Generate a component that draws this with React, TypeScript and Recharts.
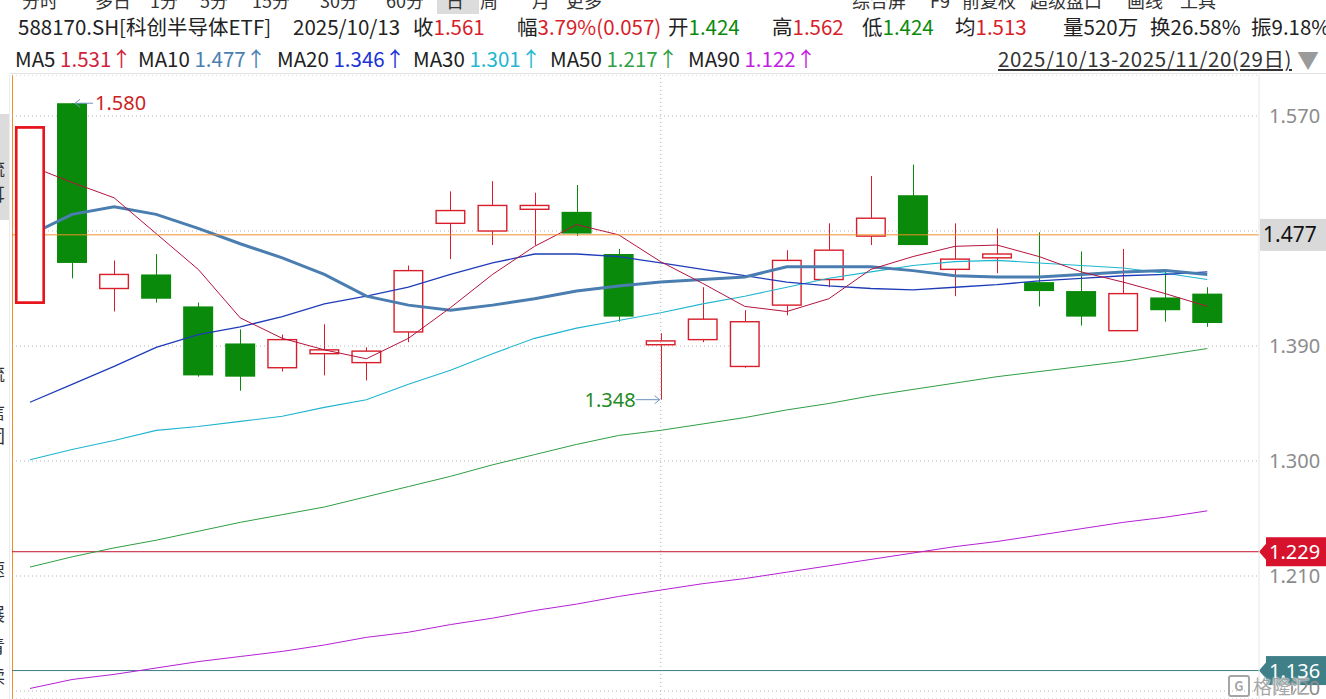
import {
  Bar,
  CartesianGrid,
  ComposedChart,
  Line,
  ReferenceDot,
  ReferenceLine,
  XAxis,
  YAxis,
} from 'recharts';

// 588170.SH daily candles, 2025/10/13 - 2025/11/20 (29 trading days)
const dates = [
  '10/13', '10/14', '10/15', '10/16', '10/17',
  '10/20', '10/21', '10/22', '10/23', '10/24',
  '10/27', '10/28', '10/29', '10/30', '10/31',
  '11/03', '11/04', '11/05', '11/06', '11/07',
  '11/10', '11/11', '11/12', '11/13', '11/14',
  '11/17', '11/18', '11/19', '11/20',
];
const open = [
  1.424, 1.58, 1.435, 1.446, 1.421, 1.392, 1.373, 1.384, 1.377, 1.401,
  1.486, 1.48, 1.497, 1.495, 1.462, 1.391, 1.395, 1.374, 1.422, 1.442,
  1.476, 1.508, 1.45, 1.459, 1.44, 1.433, 1.402, 1.428, 1.431,
];
const high = [
  1.562, 1.58, 1.457, 1.462, 1.424, 1.403, 1.399, 1.407, 1.389, 1.453,
  1.511, 1.519, 1.51, 1.516, 1.466, 1.4, 1.436, 1.418, 1.465, 1.486,
  1.523, 1.532, 1.486, 1.482, 1.479, 1.464, 1.466, 1.45, 1.436,
];
const low = [
  1.424, 1.443, 1.417, 1.424, 1.366, 1.355, 1.37, 1.367, 1.363, 1.393,
  1.458, 1.469, 1.469, 1.476, 1.409, 1.348, 1.393, 1.373, 1.414, 1.436,
  1.469, 1.469, 1.429, 1.447, 1.421, 1.406, 1.402, 1.409, 1.405,
];
const close = [
  1.561, 1.455, 1.446, 1.427, 1.367, 1.366, 1.395, 1.387, 1.386, 1.449,
  1.496, 1.5, 1.5, 1.478, 1.413, 1.394, 1.411, 1.409, 1.457, 1.465,
  1.49, 1.469, 1.458, 1.462, 1.433, 1.413, 1.431, 1.418, 1.408,
];

const ma5 = [
  1.531, 1.518, 1.506, 1.478, 1.45, 1.412, 1.396, 1.387, 1.38, 1.396,
  1.42, 1.446, 1.468, 1.485, 1.477, 1.456, 1.439, 1.421, 1.417, 1.427,
  1.45, 1.46, 1.468, 1.469, 1.46, 1.448, 1.44, 1.431, 1.421,
];
const ma10 = [
  1.477, 1.493, 1.499, 1.493, 1.482, 1.47, 1.459, 1.446, 1.429, 1.422,
  1.418, 1.422, 1.427, 1.433, 1.437, 1.44, 1.442, 1.444, 1.452, 1.452,
  1.452, 1.449, 1.445, 1.444, 1.444, 1.446, 1.448, 1.449, 1.446,
];
const ma20 = [
  1.346, 1.36, 1.374, 1.389, 1.399, 1.405, 1.413, 1.423, 1.429, 1.436,
  1.446, 1.455, 1.462, 1.462, 1.46, 1.455, 1.45, 1.445, 1.44, 1.437,
  1.435, 1.434, 1.436, 1.438, 1.441, 1.443, 1.445, 1.446, 1.448,
];
const ma30 = [
  1.301, 1.309, 1.316, 1.324, 1.327, 1.331, 1.335, 1.342, 1.348, 1.36,
  1.371, 1.384, 1.396, 1.404, 1.41, 1.416, 1.423, 1.429, 1.436, 1.443,
  1.448, 1.453, 1.456, 1.457, 1.455, 1.453, 1.451, 1.447, 1.442,
];
const ma50 = [
  1.217, 1.225, 1.232, 1.238, 1.245, 1.252, 1.258, 1.264, 1.272, 1.28,
  1.288, 1.297, 1.305, 1.313, 1.32, 1.324, 1.329, 1.334, 1.34, 1.345,
  1.351, 1.356, 1.361, 1.366, 1.37, 1.374, 1.378, 1.383, 1.388,
];
const ma90 = [
  1.122, 1.129, 1.133, 1.138, 1.143, 1.147, 1.151, 1.156, 1.162, 1.166,
  1.172, 1.177, 1.183, 1.188, 1.194, 1.199, 1.204, 1.208, 1.213, 1.218,
  1.223, 1.228, 1.233, 1.237, 1.242, 1.247, 1.252, 1.256, 1.261,
];

const yTicks = [1.57, 1.48, 1.39, 1.3, 1.21, 1.12];
const monthStartIdx = 15; // 11/03
const selectedIdx = 0;
const hiIdx = 1;
const hiValue = 1.58;
const loIdx = 15;
const loValue = 1.348;
const refOrange = 1.477;
const refRed = 1.229;
const refTeal = 1.136;

const tabs = [
  { x: 22, t: '分时' }, { x: 95, t: '多日' }, { x: 150, t: '1分' },
  { x: 200, t: '5分' }, { x: 252, t: '15分' }, { x: 320, t: '30分' },
  { x: 386, t: '60分' }, { x: 446, t: '日' }, { x: 480, t: '周' },
  { x: 532, t: '月' }, { x: 566, t: '更多' },
  { x: 852, t: '综合屏' }, { x: 930, t: 'F9' }, { x: 962, t: '前复权' },
  { x: 1030, t: '超级盘口' }, { x: 1127, t: '画线' }, { x: 1180, t: '工具' },
];

const maLegend = [
  { x: 15, name: 'MA5', v: '1.531', c: '#d21f3c' },
  { x: 138, name: 'MA10', v: '1.477', c: '#4a80b0' },
  { x: 277, name: 'MA20', v: '1.346', c: '#1a33d6' },
  { x: 413, name: 'MA30', v: '1.301', c: '#22b6d0' },
  { x: 550, name: 'MA50', v: '1.217', c: '#2fa043' },
  { x: 688, name: 'MA90', v: '1.122', c: '#c21ee0' },
];

const RED = '#d81e2a';
const GREEN = '#0a8a0a';

const data = dates.map((date, i) => ({
  i,
  date,
  open: open[i],
  high: high[i],
  low: low[i],
  close: close[i],
  ma5: ma5[i],
  ma10: ma10[i],
  ma20: ma20[i],
  ma30: ma30[i],
  ma50: ma50[i],
  ma90: ma90[i],
  sel: i === selectedIdx,
}));

function Candle(props: any) {
  const { x, y, width, height, payload, onlySel } = props;
  if (!payload || height == null || isNaN(y)) return <g />;
  if (onlySel && !payload.sel) return <g />;
  const { open: o, close: c, high: h, low: l, sel } = payload;
  const k = Math.abs(height) / (h - l);
  const py = (v: number) => y + (h - v) * k;
  const up = c >= o;
  const cx = Math.round(x + width / 2) + 0.5;
  const top = py(Math.max(o, c));
  const bot = py(Math.min(o, c));
  if (!up) {
    return (
      <g>
        <line x1={cx} x2={cx} y1={py(h)} y2={py(l)} stroke={GREEN} strokeWidth={1} />
        <rect x={x} y={top} width={width} height={Math.max(bot - top, 1)} fill={GREEN} />
      </g>
    );
  }
  const sw = sel ? 2.6 : 1.4;
  return (
    <g>
      <line x1={cx} x2={cx} y1={py(h)} y2={top} stroke={sel ? '#e8141c' : RED} strokeWidth={1} />
      <line x1={cx} x2={cx} y1={bot} y2={py(l)} stroke={sel ? '#e8141c' : RED} strokeWidth={1} />
      <rect
        x={x + sw / 2}
        y={top}
        width={width - sw}
        height={Math.max(bot - top, 2)}
        fill="#fff"
        stroke={sel ? '#e8141c' : RED}
        strokeWidth={sw}
      />
    </g>
  );
}

function HighMark({ cx, cy }: any) {
  if (cx == null) return <g />;
  return (
    <g>
      <line x1={cx + 3} x2={cx + 21} y1={cy} y2={cy} stroke="#6f93bd" strokeWidth={1} />
      <polyline points={`${cx + 8},${cy - 4} ${cx + 3},${cy} ${cx + 8},${cy + 4}`} fill="none" stroke="#6f93bd" />
      <text x={cx + 23} y={cy + 7} fill="#cc1f1f" fontSize={20} fontFamily="'Noto Sans', sans-serif">
        {hiValue.toFixed(3)}
      </text>
    </g>
  );
}

function LowMark({ cx, cy }: any) {
  if (cx == null) return <g />;
  return (
    <g>
      <line x1={cx - 25} x2={cx - 1} y1={cy} y2={cy} stroke="#6f93bd" strokeWidth={1} />
      <polyline points={`${cx - 6},${cy - 4} ${cx - 1},${cy} ${cx - 6},${cy + 4}`} fill="none" stroke="#6f93bd" />
      <text x={cx - 25} y={cy + 7} textAnchor="end" fill="#1f8a1f" fontSize={20} fontFamily="'Noto Sans', sans-serif">
        {loValue.toFixed(3)}
      </text>
    </g>
  );
}

function PriceTag({ viewBox, text, bg, color, pointer }: any) {
  if (!viewBox) return <g />;
  const x0 = viewBox.x + viewBox.width;
  const cy = viewBox.y;
  const h = pointer ? 29 : 32;
  const left = pointer ? x0 + 7 : x0 + 1;
  return (
    <g>
      {pointer && <polygon points={`${x0},${cy} ${left},${cy - 8} ${left},${cy + 8}`} fill={bg} />}
      <rect x={left} y={cy - h / 2} width={1326 - left} height={h} fill={bg} />
      <text
        x={pointer ? left + 3 : x0 + 4}
        y={cy + 7}
        fill={color}
        fontSize={pointer ? 20 : 21}
        fontFamily="'Noto Sans', sans-serif"
      >
        {text}
      </text>
    </g>
  );
}

export default function App() {
  const font = "'Noto Sans CJK SC', 'Noto Sans', sans-serif";
  return (
    <div
      style={{
        position: 'fixed',
        left: 0,
        top: 0,
        width: 1326,
        height: 699,
        background: '#fff',
        overflow: 'hidden',
        fontFamily: font,
        color: '#222',
      }}
    >
      {/* tab bar, cut off by the top edge */}
      <div style={{ position: 'absolute', left: 437, top: 0, width: 42, height: 14, background: '#dcdcdc' }} />
      {tabs.map((t) => (
        <div
          key={t.t}
          style={{ position: 'absolute', left: t.x, top: -12, fontSize: 18, lineHeight: '24px', color: '#333', whiteSpace: 'nowrap' }}
        >
          {t.t}
        </div>
      ))}

      {/* quote line */}
      <div style={{ position: 'absolute', left: 0, top: 11, fontSize: 20.5, lineHeight: '30px', whiteSpace: 'nowrap' }}>
        <span style={{ position: 'absolute', left: 18 }}>588170.SH[科创半导体ETF]</span>
        <span style={{ position: 'absolute', left: 293 }}>2025/10/13</span>
        <span style={{ position: 'absolute', left: 413 }}>收<span style={{ color: RED }}>1.561</span></span>
        <span style={{ position: 'absolute', left: 517 }}>幅<span style={{ color: RED }}>3.79%(0.057)</span></span>
        <span style={{ position: 'absolute', left: 668 }}>开<span style={{ color: GREEN }}>1.424</span></span>
        <span style={{ position: 'absolute', left: 772 }}>高<span style={{ color: RED }}>1.562</span></span>
        <span style={{ position: 'absolute', left: 862 }}>低<span style={{ color: GREEN }}>1.424</span></span>
        <span style={{ position: 'absolute', left: 955 }}>均<span style={{ color: RED }}>1.513</span></span>
        <span style={{ position: 'absolute', left: 1063 }}>量520万</span>
        <span style={{ position: 'absolute', left: 1150 }}>换26.58%</span>
        <span style={{ position: 'absolute', left: 1251 }}>振9.18%</span>
      </div>

      {/* MA legend */}
      <div style={{ position: 'absolute', left: 0, top: 43, fontSize: 20.5, lineHeight: '30px', whiteSpace: 'nowrap' }}>
        {maLegend.map((m) => (
          <span key={m.name} style={{ position: 'absolute', left: m.x }}>
            {m.name} <span style={{ color: m.c }}>{m.v}↑</span>
          </span>
        ))}
        <span style={{ position: 'absolute', left: 998, textDecoration: 'underline', color: '#333', letterSpacing: 0.6 }}>
          2025/10/13-2025/11/20(29日)
        </span>
        <span style={{ position: 'absolute', left: 1297, color: '#9a9a9a', fontSize: 22 }}>▼</span>
      </div>
      <div style={{ position: 'absolute', left: 10, top: 73, width: 1316, height: 1, background: '#e3e3e3' }} />

      {/* left side strip */}
      <div style={{ position: 'absolute', left: 0, top: 114, width: 9, height: 106, background: '#dcdcdc' }} />
      <div style={{ position: 'absolute', left: 9, top: 75, width: 1, height: 624, background: '#ececec' }} />
      <div style={{ position: 'absolute', left: 12, top: 75, width: 1, height: 624, background: '#f0902a' }} />
      <div style={{ position: 'absolute', left: 0, top: 0, width: 8, height: 699, overflow: 'hidden', fontSize: 18, color: '#333' }}>
        <div style={{ position: 'absolute', left: -12, top: 14 }}>、</div>
        <div style={{ position: 'absolute', left: -12, top: 80 }}>ﾛ</div>
        <div style={{ position: 'absolute', left: -13, top: 155 }}>流</div>
        <div style={{ position: 'absolute', left: -13, top: 180 }}>耳</div>
        <div style={{ position: 'absolute', left: -13, top: 360 }}>流</div>
        <div style={{ position: 'absolute', left: -13, top: 398 }}>信</div>
        <div style={{ position: 'absolute', left: -13, top: 422 }}>团</div>
        <div style={{ position: 'absolute', left: -13, top: 555 }}>速</div>
        <div style={{ position: 'absolute', left: -13, top: 600 }}>展</div>
        <div style={{ position: 'absolute', left: -13, top: 632 }}>青</div>
        <div style={{ position: 'absolute', left: -13, top: 662 }}>读</div>
      </div>

      <div style={{ position: 'absolute', left: 0, top: 75 }}>
        <ComposedChart width={1326} height={624} data={data} margin={{ top: 0, right: 0, bottom: 0, left: 12 }}>
          <CartesianGrid horizontal vertical={false} stroke="#b5b5b5" strokeDasharray="1 3" />
          <XAxis dataKey="i" type="number" domain={[-0.428, 29.23]} allowDataOverflow hide />
          <XAxis xAxisId="sel" dataKey="i" type="number" domain={[-0.428, 29.23]} allowDataOverflow hide />
          <YAxis
            orientation="right"
            width={67}
            domain={[1.11375, 1.60209]}
            allowDataOverflow
            ticks={yTicks}
            tickFormatter={(v: number) => (Math.abs(v - 1.48) < 1e-6 ? '' : v.toFixed(3))}
            tick={{ fill: '#8c8c8c', fontSize: 20, fontFamily: "'Noto Sans', sans-serif", textAnchor: 'start' }}
            tickLine={false}
            tickMargin={4}
            axisLine={{ stroke: '#e6e6e6' }}
          />
          <ReferenceLine x={monthStartIdx} stroke="#b5b5b5" strokeDasharray="1 3" />
          <ReferenceLine
            y={refRed}
            stroke="#c8102e"
            strokeWidth={1}
            label={<PriceTag text={refRed.toFixed(3)} bg="#d6122d" color="#fff" pointer />}
          />
          <ReferenceLine
            y={refTeal}
            stroke="#3c7d86"
            strokeWidth={1}
            label={<PriceTag text={refTeal.toFixed(3)} bg="#3f7f87" color="#fff" pointer />}
          />

          <Bar
            dataKey={(d: any) => [d.low, d.high]}
            barSize={30}
            isAnimationActive={false}
            shape={(p: any) => <Candle {...p} />}
          />

          <Line dataKey="ma90" stroke="#b51fd6" strokeWidth={1} dot={false} activeDot={false} isAnimationActive={false} />
          <Line dataKey="ma50" stroke="#2f9e44" strokeWidth={1} dot={false} activeDot={false} isAnimationActive={false} />
          <Line dataKey="ma30" stroke="#1fb5cf" strokeWidth={1.1} dot={false} activeDot={false} isAnimationActive={false} />
          <Line dataKey="ma20" stroke="#1f3cb8" strokeWidth={1.3} dot={false} activeDot={false} isAnimationActive={false} />
          <Line dataKey="ma10" stroke="#4a7db0" strokeWidth={3} dot={false} activeDot={false} isAnimationActive={false} />
          <Line dataKey="ma5" stroke="#b5123e" strokeWidth={1} dot={false} activeDot={false} isAnimationActive={false} />

          <Bar
            xAxisId="sel"
            dataKey={(d: any) => [d.low, d.high]}
            barSize={30}
            isAnimationActive={false}
            zIndex={450}
            shape={(p: any) => <Candle {...p} onlySel />}
          />

          <ReferenceLine
            y={refOrange}
            stroke="#f0902a"
            strokeWidth={1}
            label={<PriceTag text={refOrange.toFixed(3)} bg="#d9d9d9" color="#111" />}
          />
          <ReferenceDot x={hiIdx} y={hiValue} r={1} shape={(p: any) => <HighMark {...p} />} />
          <ReferenceDot x={loIdx} y={loValue} r={1} shape={(p: any) => <LowMark {...p} />} />
        </ComposedChart>
      </div>

      {/* watermark */}
      <div
        style={{
          position: 'absolute',
          left: 1228,
          top: 672,
          display: 'flex',
          alignItems: 'center',
          gap: 3,
          color: 'rgba(150,150,150,0.85)',
          fontSize: 19,
          textShadow: '0 0 2px #fff, 0 0 2px #fff',
        }}
      >
        <span
          style={{
            width: 18,
            height: 18,
            border: '2px solid rgba(150,150,150,0.85)',
            borderRadius: 3,
            fontSize: 13,
            lineHeight: '18px',
            textAlign: 'center',
            fontWeight: 700,
          }}
        >
          G
        </span>
        <span>格隆汇</span>
      </div>
    </div>
  );
}
